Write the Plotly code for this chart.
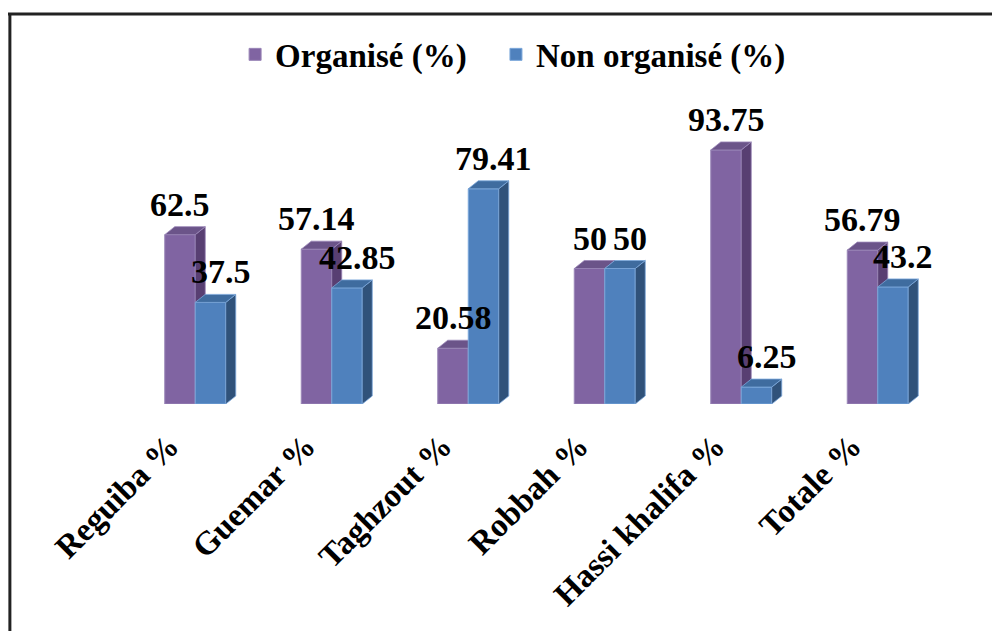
import plotly.graph_objects as go

categories = ["Reguiba %", "Guemar %", "Taghzout %", "Robbah %", "Hassi khalifa %", "Totale %"]
organise = [62.5, 57.14, 20.58, 50, 93.75, 56.79]
non_organise = [37.5, 42.85, 79.41, 50, 6.25, 43.2]
organise_labels = ["62.5", "57.14", "20.58", "50", "93.75", "56.79"]
non_organise_labels = ["37.5", "42.85", "79.41", "50", "6.25", "43.2"]

FONT = "Times New Roman, Liberation Serif, serif"
BAR_W = 0.2234
DX = 0.0733   # depth in x units
DY = 2.95     # depth in y units

series = [
    dict(name="Organisé (%)", vals=organise, labels=organise_labels, offset=-BAR_W,
         front="#8064A2", side="#583F72", top="#6B5489", edge="#9A86B8",
         xa="x", ya="y", xshift=0, legend="legend"),
    dict(name="Non organisé (%)", vals=non_organise, labels=non_organise_labels, offset=0.0,
         front="#4F81BD", side="#30527A", top="#3F6C9F", edge="#7BA7DA",
         xa="x2", ya="y2", xshift=10, legend="legend2"),
]

fig = go.Figure()
annotations = []
xs = list(range(len(categories)))

for s in series:
    fig.add_trace(go.Bar(
        x=xs, y=s["vals"], width=BAR_W, offset=s["offset"], name=s["name"],
        marker=dict(color=s["front"], line=dict(color=s["edge"], width=1)),
        xaxis=s["xa"], yaxis=s["ya"], hoverinfo="skip", legend=s["legend"],
    ))
    sx, sy, tx, ty = [], [], [], []
    for i, v in zip(xs, s["vals"]):
        xl = i + s["offset"]
        xr = xl + BAR_W
        sx += [xr, xr + DX, xr + DX, xr, xr, None]
        sy += [0, DY, v + DY, v, 0, None]
        tx += [xl, xl + DX, xr + DX, xr, xl, None]
        ty += [v, v + DY, v + DY, v, v, None]
        annotations.append(dict(
            x=xl + BAR_W / 2, y=v, xref=s["xa"], yref=s["ya"], text=s["labels"][i],
            showarrow=False, yanchor="bottom", yshift=10, xshift=s["xshift"],
            font=dict(family=FONT, size=34, color="black", weight="bold"),
        ))
    fig.add_trace(go.Scatter(x=sx, y=sy, mode="lines", fill="toself", fillcolor=s["side"],
                             line=dict(color=s["edge"], width=0.8), showlegend=False,
                             hoverinfo="skip", xaxis=s["xa"], yaxis=s["ya"]))
    fig.add_trace(go.Scatter(x=tx, y=ty, mode="lines", fill="toself", fillcolor=s["top"],
                             line=dict(color=s["edge"], width=0.8), showlegend=False,
                             hoverinfo="skip", xaxis=s["xa"], yaxis=s["ya"]))

xr_range = [-0.5, len(categories) - 0.5]
yr_range = [0, 100]
legend_font = dict(family=FONT, size=33, color="black", weight="bold")

fig.update_layout(
    width=992, height=623,
    margin=dict(l=119, r=54, t=125, b=227, autoexpand=False),
    paper_bgcolor="white", plot_bgcolor="rgba(0,0,0,0)",
    showlegend=True,
    legend=dict(orientation="h", x=0.132, xanchor="left", y=1.29, yanchor="middle",
                font=legend_font, bgcolor="rgba(0,0,0,0)"),
    legend2=dict(orientation="h", x=0.4505, xanchor="left", y=1.29, yanchor="middle",
                 font=legend_font, bgcolor="rgba(0,0,0,0)"),
    xaxis=dict(range=xr_range, tickmode="array", tickvals=xs, ticktext=categories,
               tickangle=-45, showgrid=False, zeroline=False, showline=False, ticks="",
               tickfont=dict(family=FONT, size=33, color="black", weight="bold"),
               ticklabelstandoff=15, ticklabelshift=-26, automargin=False),
    yaxis=dict(range=yr_range, visible=False, showgrid=False, zeroline=False),
    xaxis2=dict(range=xr_range, overlaying="x", visible=False, showgrid=False, zeroline=False),
    yaxis2=dict(range=yr_range, overlaying="y", visible=False, showgrid=False, zeroline=False),
    annotations=annotations,
    shapes=[
        dict(type="line", xref="paper", yref="paper", x0=-0.15, x1=1.2, y0=1.439, y1=1.439,
             line=dict(color="#222222", width=3)),
        dict(type="line", xref="paper", yref="paper", x0=-0.143, x1=-0.143, y0=1.439, y1=-1.0,
             line=dict(color="#222222", width=3)),
    ],
)

fig.write_html("out.html")
